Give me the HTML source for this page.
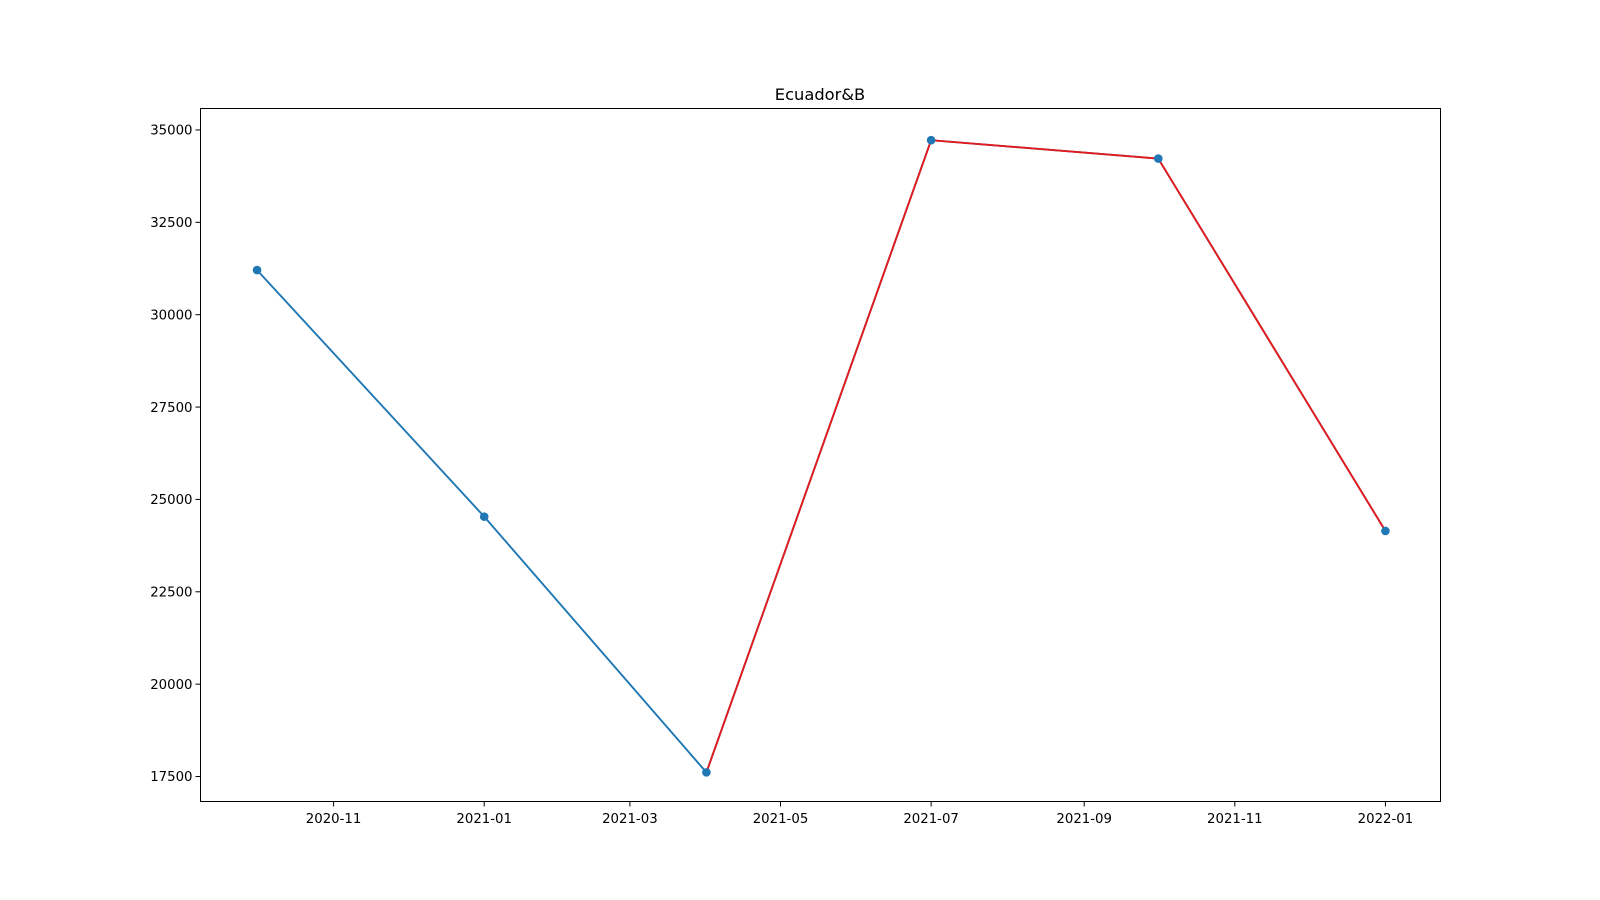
<!DOCTYPE html>
<html>
<head>
<meta charset="utf-8">
<style>
html,body{margin:0;padding:0;background:#fff;}
svg{display:block;font-family:"DejaVu Sans","Liberation Sans",sans-serif;}
</style>
</head>
<body>
<svg id="chart" width="1600" height="900" viewBox="0 0 1600 900">
  <rect x="0" y="0" width="1600" height="900" fill="#fff"/>
  <text x="820" y="100" text-anchor="middle" font-size="16.3" fill="#000">Ecuador&amp;B</text>
  <g id="yticks"></g>
  <g id="xticks"></g>
  <g id="series"></g>
  <rect x="200.5" y="108.5" width="1240" height="693" fill="none" stroke="#000" stroke-width="1"/>
</svg>
<script>
const dates = ["2020-10-01","2021-01-01","2021-04-01","2021-07-01","2021-10-01","2022-01-01"];
const values = [31207, 24534, 17612, 34723, 34225, 24146];
const highlightStart = 2;
const yTickValues = [17500, 20000, 22500, 25000, 27500, 30000, 32500, 35000];
const xTickLabels = ["2020-11","2021-01","2021-03","2021-05","2021-07","2021-09","2021-11","2022-01"];

const NS = "http://www.w3.org/2000/svg";
const L = 200.5, R = 1440.5, T = 108.5, B = 801.5;
const dayMs = 86400000;
const ref = Date.UTC(2021,0,1);
const xMin = -114.9, xMax = 387.3;
const yMin = 16824, yMax = 35581;
function days(s){const p=s.split("-").map(Number);return (Date.UTC(p[0],p[1]-1,p[2]||1)-ref)/dayMs;}
function xs(s){return L + (days(s)-xMin)/(xMax-xMin)*(R-L);}
function ys(v){return B - (v-yMin)/(yMax-yMin)*(B-T);}
function mk(tag, attrs, parent){const e=document.createElementNS(NS,tag);for(const k in attrs)e.setAttribute(k,attrs[k]);parent.appendChild(e);return e;}

const yg = document.getElementById("yticks");
yTickValues.forEach(v=>{
  const y = ys(v);
  const t = mk("line",{x1:L-5,x2:L,y1:y,y2:y,stroke:"#000"},yg);
  
  
  const tx = mk("text",{x:L-8,y:y+4.7,"text-anchor":"end","font-size":"13.3",fill:"#000"},yg);
  tx.textContent = v;
  
  
});
const xg = document.getElementById("xticks");
xTickLabels.forEach(s=>{
  const x = xs(s+"-01");
  const t = mk("line",{x1:x,x2:x,y1:B,y2:B+5,stroke:"#000"},xg);
  
  
  const tx = mk("text",{x:x,y:B+21.5,"text-anchor":"middle","font-size":"13.3",fill:"#000"},xg);
  tx.textContent = s;
  
  
});
const sg = document.getElementById("series");
const pts = dates.map((d,i)=>[xs(d),ys(values[i])]);
const line = mk("polyline",{points:pts.map(p=>p.join(",")).join(" "),fill:"none",stroke:"#1f77b4","stroke-width":"1.9"},sg);


const hl = mk("polyline",{points:pts.slice(highlightStart).map(p=>p.join(",")).join(" "),fill:"none",stroke:"#e41a1c","stroke-width":"1.9"},sg);


pts.forEach(p=>{
  const c = mk("circle",{cx:p[0],cy:p[1],r:4.3,fill:"#1f77b4"},sg);
  
  
});
</script>
</body>
</html>
